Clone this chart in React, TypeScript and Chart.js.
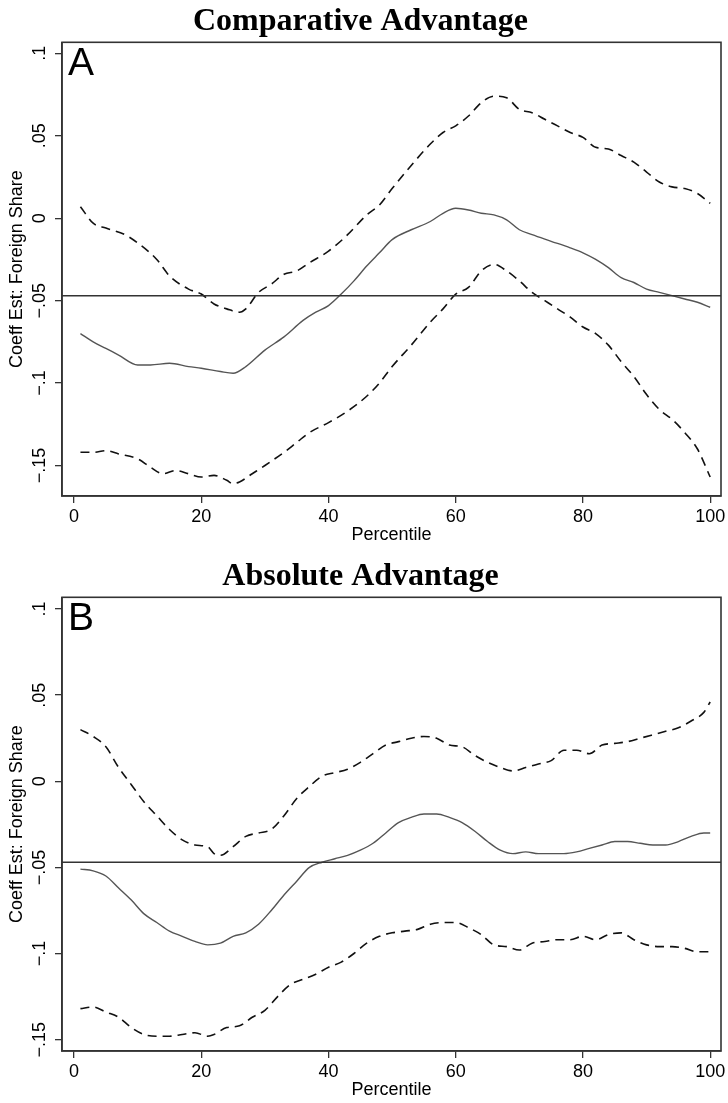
import React, { useEffect, useRef } from "react";
import { Chart, registerables } from "chart.js";
Chart.register(...registerables);

// ---------- shared axis data ----------
const xTicks = [0, 20, 40, 60, 80, 100];
const yTicks = [-0.15, -0.1, -0.05, 0, 0.05, 0.1];
const yTickLabels = ["\u2212.15", "\u2212.1", "\u2212.05", "0", ".05", ".1"];
const xMin = -1.9;
const xMax = 101.7;
const refValue = -0.047;
const xTitle = "Percentile";
const yTitle = "Coeff Est: Foreign Share";

// ---------- Panel A: Comparative Advantage ----------
const aTitle = "Comparative Advantage";
const aLetter = "A";
const aYMin = -0.1685;
const aYMax = 0.1067;

const aHiPct = [1, 3, 5, 8, 10, 13, 15, 18, 20, 22, 24, 26, 27, 29, 31, 33, 35, 37, 40, 43, 46, 48, 50, 53, 56, 58, 60, 62, 64, 66, 68, 70, 72, 74, 76, 78, 80, 82, 84, 86, 88, 90, 92, 94, 96, 98, 100];
const aHiVal = [0.007, -0.003, -0.006, -0.01, -0.015, -0.025, -0.035, -0.043, -0.046, -0.052, -0.055, -0.057, -0.055, -0.045, -0.04, -0.034, -0.032, -0.027, -0.02, -0.01, 0.002, 0.008, 0.018, 0.032, 0.045, 0.052, 0.056, 0.062, 0.07, 0.074, 0.073, 0.066, 0.064, 0.06, 0.056, 0.052, 0.049, 0.043, 0.042, 0.038, 0.034, 0.028, 0.022, 0.019, 0.018, 0.015, 0.009];

const aMidPct = [1, 3, 5, 7, 10, 12, 15, 18, 20, 23, 25, 27, 30, 33, 36, 38, 40, 42, 44, 46, 48, 50, 53, 56, 58, 60, 62, 64, 66, 68, 70, 72, 75, 78, 80, 82, 84, 86, 88, 90, 92, 94, 96, 98, 100];
const aMidVal = [-0.07, -0.075, -0.079, -0.083, -0.089, -0.089, -0.088, -0.09, -0.091, -0.093, -0.094, -0.09, -0.08, -0.072, -0.062, -0.057, -0.053, -0.046, -0.038, -0.029, -0.021, -0.013, -0.007, -0.002, 0.003, 0.006, 0.005, 0.003, 0.002, -0.001, -0.007, -0.01, -0.014, -0.018, -0.021, -0.025, -0.03, -0.036, -0.039, -0.043, -0.045, -0.047, -0.049, -0.051, -0.054];

const aLoPct = [1, 3, 5, 7, 10, 12, 14, 16, 18, 20, 22, 24, 25, 26, 28, 30, 33, 35, 37, 40, 43, 46, 48, 50, 53, 56, 58, 60, 62, 64, 66, 68, 70, 72, 74, 76, 78, 80, 82, 84, 86, 88, 90, 92, 94, 96, 98, 100];
const aLoVal = [-0.142, -0.142, -0.141, -0.143, -0.146, -0.151, -0.155, -0.153, -0.155, -0.157, -0.156, -0.159, -0.161, -0.16, -0.155, -0.15, -0.142, -0.136, -0.13, -0.124, -0.117, -0.108, -0.1, -0.09, -0.077, -0.063, -0.055, -0.046, -0.042, -0.032, -0.028, -0.032, -0.038, -0.045, -0.05, -0.055, -0.06, -0.066, -0.07, -0.077, -0.087, -0.096, -0.107, -0.116, -0.122, -0.13, -0.14, -0.157];

// ---------- Panel B: Absolute Advantage ----------
const bTitle = "Absolute Advantage";
const bLetter = "B";
const bYMin = -0.1566;
const bYMax = 0.1068;

const bHiPct = [1, 3, 5, 7, 9, 11, 13, 15, 17, 19, 21, 22, 23, 25, 27, 29, 31, 33, 35, 37, 39, 41, 43, 45, 47, 49, 51, 53, 55, 57, 59, 61, 63, 65, 67, 69, 71, 73, 75, 77, 79, 81, 83, 85, 87, 89, 91, 93, 95, 97, 99, 100];
const bHiVal = [0.03, 0.026, 0.02, 0.008, -0.002, -0.012, -0.02, -0.028, -0.034, -0.037, -0.038, -0.042, -0.043, -0.038, -0.032, -0.03, -0.028, -0.02, -0.01, -0.003, 0.003, 0.005, 0.007, 0.011, 0.016, 0.021, 0.023, 0.025, 0.026, 0.025, 0.021, 0.02, 0.015, 0.011, 0.008, 0.006, 0.008, 0.01, 0.012, 0.018, 0.018, 0.016, 0.021, 0.022, 0.023, 0.025, 0.027, 0.029, 0.031, 0.035, 0.04, 0.046];

const bMidPct = [1, 3, 5, 7, 9, 11, 13, 15, 17, 19, 21, 23, 25, 27, 29, 31, 33, 35, 37, 39, 41, 43, 45, 47, 49, 51, 53, 55, 57, 59, 61, 63, 65, 67, 69, 71, 73, 75, 77, 79, 81, 83, 85, 87, 89, 91, 93, 95, 97, 99, 100];
const bMidVal = [-0.051, -0.052, -0.055, -0.062, -0.069, -0.077, -0.082, -0.087, -0.09, -0.093, -0.095, -0.094, -0.09, -0.088, -0.083, -0.075, -0.066, -0.058, -0.05, -0.047, -0.045, -0.043, -0.04, -0.036, -0.03, -0.024, -0.021, -0.019, -0.019, -0.021, -0.024, -0.029, -0.035, -0.04, -0.042, -0.041, -0.042, -0.042, -0.042, -0.041, -0.039, -0.037, -0.035, -0.035, -0.036, -0.037, -0.037, -0.035, -0.032, -0.03, -0.03];

const bLoPct = [1, 3, 5, 7, 9, 11, 13, 15, 17, 19, 21, 22, 24, 26, 28, 30, 32, 34, 36, 38, 40, 42, 44, 46, 48, 50, 52, 54, 56, 58, 60, 62, 64, 66, 68, 70, 72, 74, 76, 78, 80, 82, 84, 86, 88, 90, 92, 94, 96, 98, 100];
const bLoVal = [-0.132, -0.131, -0.134, -0.137, -0.143, -0.147, -0.148, -0.148, -0.147, -0.146, -0.148, -0.147, -0.143, -0.142, -0.137, -0.133, -0.125, -0.118, -0.115, -0.112, -0.108, -0.105, -0.1, -0.094, -0.09, -0.088, -0.087, -0.086, -0.083, -0.082, -0.082, -0.085, -0.089, -0.095, -0.096, -0.098, -0.094, -0.093, -0.092, -0.092, -0.09, -0.092, -0.089, -0.088, -0.092, -0.095, -0.096, -0.096, -0.097, -0.099, -0.099];

// ---------- rendering ----------
const W = 728;
const H = 548;
const SANS = '"Liberation Sans", Arial, Helvetica, sans-serif';
const SERIF = '"Liberation Serif", "Times New Roman", serif';

const toPoints = (xs: number[], ys: number[]) => xs.map((x, i) => ({ x, y: ys[i] }));

const framePlugin = {
  id: "frame",
  afterDraw(chart: any, _args: any, opts: any) {
    const { ctx, chartArea: a, scales } = chart;
    ctx.save();
    ctx.strokeStyle = "#333";
    ctx.lineWidth = 1.6;
    ctx.strokeRect(a.left, a.top, a.right - a.left, a.bottom - a.top);
    ctx.fillStyle = "#000";
    ctx.font = `18px ${SANS}`;
    yTicks.forEach((v, i) => {
      const y = scales.y.getPixelForValue(v);
      ctx.save();
      ctx.translate(a.left - 17, y);
      ctx.rotate(-Math.PI / 2);
      ctx.textAlign = "center";
      ctx.textBaseline = "alphabetic";
      ctx.fillText(yTickLabels[i], 0, 0);
      ctx.restore();
    });
    ctx.textAlign = "center";
    ctx.textBaseline = "alphabetic";
    xTicks.forEach((v) => {
      ctx.fillText(String(v), scales.x.getPixelForValue(v), a.bottom + 26);
    });
    ctx.font = `39px ${SANS}`;
    ctx.textAlign = "left";
    ctx.fillText(opts.letter, a.left + 6, a.top + 33);
    ctx.restore();
  },
};

type PanelProps = {
  title: string;
  letter: string;
  yMin: number;
  yMax: number;
  hiPct: number[];
  hiVal: number[];
  midPct: number[];
  midVal: number[];
  loPct: number[];
  loVal: number[];
  top: number;
};

function Panel(p: PanelProps) {
  const ref = useRef<HTMLCanvasElement | null>(null);
  useEffect(() => {
    if (!ref.current) return;
    const dashed = {
      borderColor: "#111",
      borderWidth: 1.6,
      borderDash: [9, 6],
      pointRadius: 0,
      cubicInterpolationMode: "monotone" as const,
      fill: false,
    };
    const chart = new Chart(ref.current, {
      type: "line",
      data: {
        datasets: [
          { label: "ref", data: toPoints([xMin, xMax], [refValue, refValue]), borderColor: "#333", borderWidth: 1.5, pointRadius: 0, fill: false },
          { label: "upper", data: toPoints(p.hiPct, p.hiVal), ...dashed },
          { label: "lower", data: toPoints(p.loPct, p.loVal), ...dashed },
          { label: "estimate", data: toPoints(p.midPct, p.midVal), borderColor: "#555", borderWidth: 1.4, pointRadius: 0, cubicInterpolationMode: "monotone", fill: false },
        ],
      },
      options: {
        responsive: false,
        animation: false,
        events: [],
        layout: { padding: { left: 0, right: 7, top: 0, bottom: 0 } },
        plugins: {
          legend: { display: false },
          tooltip: { enabled: false },
          title: {
            display: true,
            text: p.title,
            color: "#000",
            font: { family: SERIF, size: 32, weight: "bold", lineHeight: 1.15 },
            padding: { top: 3.5, bottom: 2 },
          },
          frame: { letter: p.letter },
        } as any,
        scales: {
          x: {
            type: "linear",
            min: xMin,
            max: xMax,
            afterBuildTicks: (s: any) => { s.ticks = xTicks.map((v) => ({ value: v })); },
            afterFit: (s: any) => { s.height = 52; },
            ticks: { display: false },
            grid: { display: true, drawOnChartArea: false, drawTicks: true, tickLength: 7, color: "#333", lineWidth: 1.3 },
            border: { display: true, color: "#333", width: 1.6 },
            title: { display: true, text: xTitle, color: "#000", font: { family: SANS, size: 18 }, padding: { top: 0, bottom: 2 } },
          },
          y: {
            type: "linear",
            min: p.yMin,
            max: p.yMax,
            afterBuildTicks: (s: any) => { s.ticks = yTicks.map((v) => ({ value: v })); },
            afterFit: (s: any) => { s.width = 62; },
            ticks: { display: false },
            grid: { display: true, drawOnChartArea: false, drawTicks: true, tickLength: 7, color: "#333", lineWidth: 1.3 },
            border: { display: true, color: "#333", width: 1.6 },
            title: { display: true, text: yTitle, color: "#000", font: { family: SANS, size: 18 }, padding: { top: 6, bottom: 0 } },
          },
        },
      },
      plugins: [framePlugin],
    });
    return () => chart.destroy();
  }, []);
  return (
    <canvas
      ref={ref}
      width={W}
      height={H}
      style={{ position: "absolute", left: 0, top: p.top, width: W, height: H }}
    />
  );
}

export default function App() {
  return (
    <div style={{ position: "fixed", left: 0, top: 0, width: 728, height: 1103, background: "#fff", overflow: "hidden" }}>
      <Panel title={aTitle} letter={aLetter} yMin={aYMin} yMax={aYMax}
        hiPct={aHiPct} hiVal={aHiVal} midPct={aMidPct} midVal={aMidVal} loPct={aLoPct} loVal={aLoVal} top={0} />
      <Panel title={bTitle} letter={bLetter} yMin={bYMin} yMax={bYMax}
        hiPct={bHiPct} hiVal={bHiVal} midPct={bMidPct} midVal={bMidVal} loPct={bLoPct} loVal={bLoVal} top={555} />
    </div>
  );
}
